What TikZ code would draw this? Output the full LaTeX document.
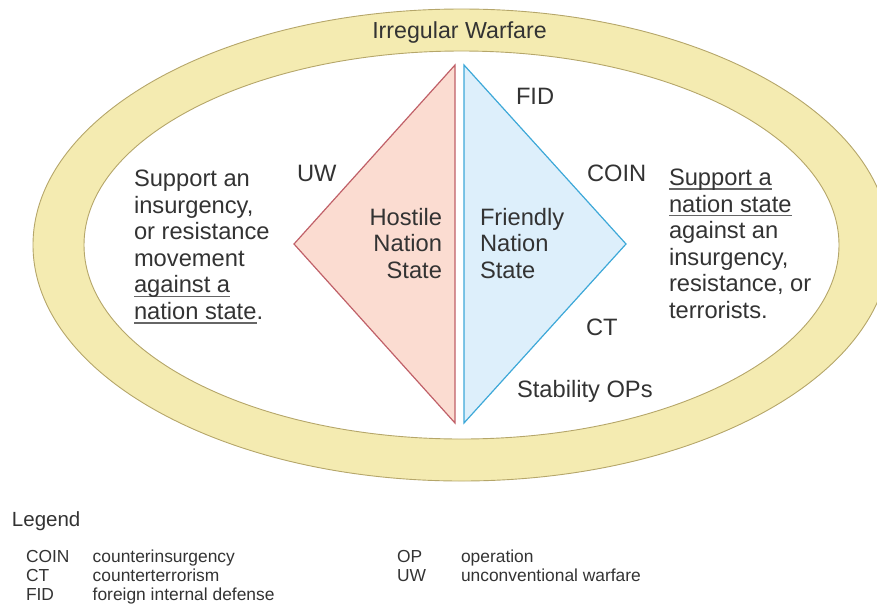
\documentclass[tikz,border=0pt]{standalone}
\usepackage{fontspec}
\setmainfont{Liberation Sans}
\definecolor{bandfill}{HTML}{F4EBB1}
\definecolor{bandline}{HTML}{B5A66A}
\definecolor{redfill}{HTML}{FBDCD1}
\definecolor{redline}{HTML}{C06068}
\definecolor{bluefill}{HTML}{DDEFFB}
\definecolor{blueline}{HTML}{3DA8D8}
\definecolor{txt}{HTML}{333333}
\definecolor{ulcol}{HTML}{666666}
\newcommand\ulin[1]{\leavevmode\setbox0\hbox{#1}\rlap{\textcolor{ulcol}{\rule[-4pt]{\wd0}{1.1pt}}}\box0}
\newcommand\bigfont{\fontsize{23.7}{26.6}\selectfont}
\newcommand\legfont{\fontsize{17.4}{18.9}\selectfont}
\begin{document}
\begin{tikzpicture}[x=1pt,y=-1pt,
  lbl/.style={inner sep=0pt,outer sep=0pt,text=txt,font=\bigfont},
  leg/.style={inner sep=0pt,outer sep=0pt,text=txt,font=\legfont,anchor=base west}]
\useasboundingbox (0,0) rectangle (877,606);
\clip (0,0) rectangle (877,606);
% band
\fill[bandfill,even odd rule] (461.5,245) ellipse [x radius=428.5pt,y radius=236pt]
  (461.5,245) ellipse [x radius=377.5pt,y radius=194pt];
\draw[bandline,line width=0.9pt] (461.5,245) ellipse [x radius=428.5pt,y radius=236pt];
\draw[bandline,line width=0.9pt] (461.5,245) ellipse [x radius=377.5pt,y radius=194pt];
% triangles
\draw[redline,fill=redfill,line width=1.2pt,line join=miter] (455,65) -- (294,244) -- (455,423) -- cycle;
\draw[blueline,fill=bluefill,line width=1.2pt,line join=miter] (464,65) -- (626,244) -- (464,423) -- cycle;
% texts
\node[lbl,anchor=base,font=\fontsize{23.2}{26}\selectfont] (title) at (459.5,38) {Irregular Warfare};
\node[lbl,anchor=base west] (left) at (134,186.5) {\begin{tabular}[t]{@{}l@{}}Support an\\ insurgency,\\ or resistance\\ movement\\ \ulin{against a}\\ \ulin{nation state}.\end{tabular}};
\node[lbl,anchor=base west] (right) at (669,185.5) {\begin{tabular}[t]{@{}l@{}}\ulin{Support a}\\ \ulin{nation state}\\ against an\\ insurgency,\\ resistance, or\\ terrorists.\end{tabular}};
\node[lbl,anchor=base east] (hostile) at (442,225) {\begin{tabular}[t]{@{}r@{}}Hostile\\ Nation\\ State\end{tabular}};
\node[lbl,anchor=base west] (friendly) at (480,225) {\begin{tabular}[t]{@{}l@{}}Friendly\\ Nation\\ State\end{tabular}};
\node[lbl,anchor=base west] (uw) at (297,181) {UW};
\node[lbl,anchor=base west] (fid) at (516,104) {FID};
\node[lbl,anchor=base west] (coin) at (587,181) {COIN};
\node[lbl,anchor=base west] (ct) at (586,335) {CT};
\node[lbl,anchor=base west] (stab) at (517,397) {Stability OPs};
% legend
\node[leg,font=\fontsize{20.5}{22}\selectfont] (legend) at (12,526) {Legend};
\node[leg] (a1) at (26,562) {COIN};
\node[leg] (a2) at (26,581) {CT};
\node[leg] (a3) at (26,600) {FID};
\node[leg] (d1) at (92.7,562) {counterinsurgency};
\node[leg] (d2) at (92.7,581) {counterterrorism};
\node[leg] (d3) at (92.7,600) {foreign internal defense};
\node[leg] (a4) at (397,562) {OP};
\node[leg] (a5) at (397,581) {UW};
\node[leg] (d4) at (461,562) {operation};
\node[leg] (d5) at (461,581) {unconventional warfare};
\end{tikzpicture}
\end{document}
